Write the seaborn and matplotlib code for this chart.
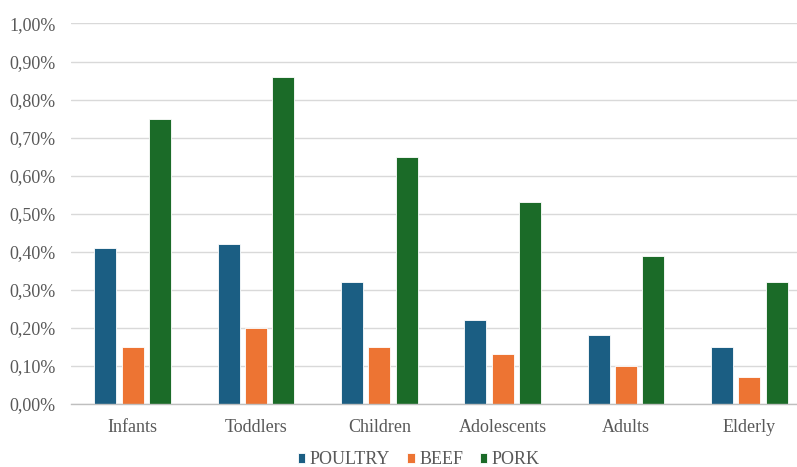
import matplotlib
matplotlib.use("Agg")
import matplotlib.pyplot as plt
import seaborn as sns
import pandas as pd
from matplotlib.ticker import FuncFormatter, MultipleLocator

categories = ["Infants", "Toddlers", "Children", "Adolescents", "Adults", "Elderly"]
series_names = ["POULTRY", "BEEF", "PORK"]
poultry = [0.41, 0.42, 0.32, 0.22, 0.18, 0.15]
beef = [0.15, 0.20, 0.15, 0.13, 0.10, 0.07]
pork = [0.75, 0.86, 0.65, 0.53, 0.39, 0.32]
colors = ["#1b5e83", "#ed7433", "#1b6b28"]

rows = []
for name, vals in zip(series_names, [poultry, beef, pork]):
    for c, v in zip(categories, vals):
        rows.append({"group": c, "meat": name, "value": v})
df = pd.DataFrame(rows)

sns.set_theme(style="white")
plt.rcParams["font.family"] = ["Liberation Serif", "DejaVu Serif"]

fig = plt.figure(figsize=(7.97, 4.67), dpi=100)
ax = fig.add_axes([71 / 797, 0.135, 740 / 797, 0.8147])

sns.barplot(data=df, x="group", y="value", hue="meat", order=categories,
            hue_order=series_names, palette=colors, width=0.668, gap=0.2,
            edgecolor="white", linewidth=0.6, saturation=1, ax=ax, errorbar=None)

ax.set_ylim(0, 1.0)
ax.yaxis.set_major_locator(MultipleLocator(0.1))
ax.yaxis.set_major_formatter(FuncFormatter(lambda v, p: f"{v:.2f}%".replace(".", ",")))
ax.set_xlim(-0.5, len(categories) - 0.5)
ax.grid(axis="y", color="#d9d9d9", linewidth=1)
ax.set_axisbelow(True)
for s in ["top", "right", "left"]:
    ax.spines[s].set_visible(False)
ax.spines["bottom"].set_color("#bfbfbf")
ax.spines["bottom"].set_linewidth(1)
ax.set_xlabel("")
ax.set_ylabel("")
ax.tick_params(axis="both", length=0, labelsize=13, colors="#595959")
ax.tick_params(axis="y", pad=11)
ax.tick_params(axis="x", pad=10.5)

handles, labels = ax.get_legend_handles_labels()
leg = ax.legend(handles, labels, loc="center", bbox_to_anchor=(419 / 797, 1 - 460 / 467),
                bbox_transform=fig.transFigure,
                ncol=3, frameon=False, prop={"family": "Liberation Serif", "size": 13},
                labelcolor="#595959",
                handlelength=0.4, handleheight=0.4, handletextpad=0.25,
                columnspacing=0.95, borderpad=0)

fig.savefig("out.png", dpi=100)
